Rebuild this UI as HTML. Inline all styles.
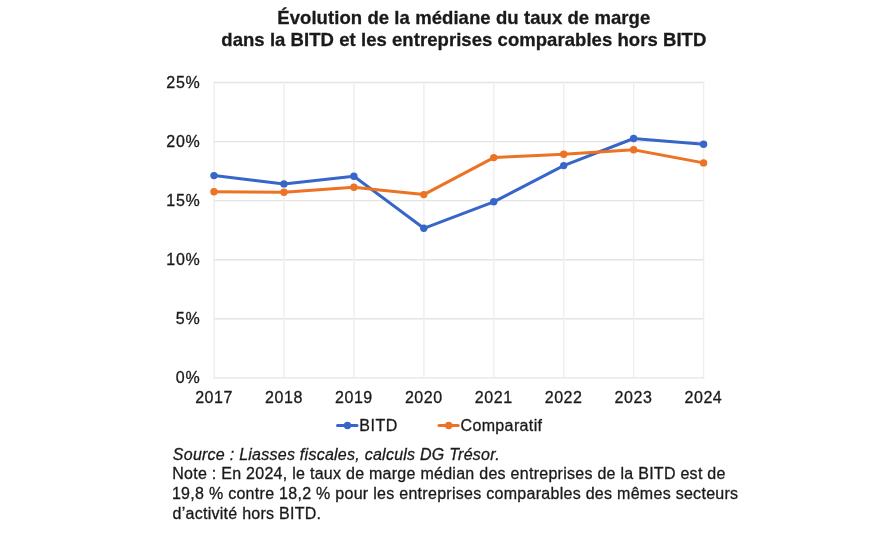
<!DOCTYPE html>
<html lang="fr"><head><meta charset="utf-8"><title>Évolution de la médiane du taux de marge</title>
<style>
html,body{margin:0;padding:0;background:#fff;}
body{width:880px;height:550px;position:relative;overflow:hidden;}
svg{position:absolute;left:0;top:0;will-change:transform;}
text{font-family:"Liberation Sans",Arial,sans-serif;fill:#1a1a1a;stroke:#1a1a1a;stroke-width:0.3px;}
.ax{font-size:16px;}
</style></head>
<body>
<svg width="880" height="550" viewBox="0 0 880 550">
<line x1="213.5" y1="377.85" x2="704.25" y2="377.85" stroke="#e4e4e4" stroke-width="1.4"/>
<line x1="213.5" y1="318.79" x2="704.25" y2="318.79" stroke="#e4e4e4" stroke-width="1.4"/>
<line x1="213.5" y1="259.73" x2="704.25" y2="259.73" stroke="#e4e4e4" stroke-width="1.4"/>
<line x1="213.5" y1="200.67" x2="704.25" y2="200.67" stroke="#e4e4e4" stroke-width="1.4"/>
<line x1="213.5" y1="141.61" x2="704.25" y2="141.61" stroke="#e4e4e4" stroke-width="1.4"/>
<line x1="213.5" y1="82.55" x2="704.25" y2="82.55" stroke="#e4e4e4" stroke-width="1.4"/>
<line x1="214.20" y1="81.85" x2="214.20" y2="378.55" stroke="#eeeeee" stroke-width="1.4"/>
<line x1="284.11" y1="81.85" x2="284.11" y2="378.55" stroke="#eeeeee" stroke-width="1.4"/>
<line x1="354.01" y1="81.85" x2="354.01" y2="378.55" stroke="#eeeeee" stroke-width="1.4"/>
<line x1="423.92" y1="81.85" x2="423.92" y2="378.55" stroke="#eeeeee" stroke-width="1.4"/>
<line x1="493.83" y1="81.85" x2="493.83" y2="378.55" stroke="#eeeeee" stroke-width="1.4"/>
<line x1="563.74" y1="81.85" x2="563.74" y2="378.55" stroke="#eeeeee" stroke-width="1.4"/>
<line x1="633.64" y1="81.85" x2="633.64" y2="378.55" stroke="#eeeeee" stroke-width="1.4"/>
<line x1="703.55" y1="81.85" x2="703.55" y2="378.55" stroke="#eeeeee" stroke-width="1.4"/>
<text x="199.8" y="383.35" text-anchor="end" textLength="24.0" lengthAdjust="spacing" class="ax">0%</text>
<text x="199.8" y="324.29" text-anchor="end" textLength="24.0" lengthAdjust="spacing" class="ax">5%</text>
<text x="199.8" y="265.23" text-anchor="end" textLength="33.5" lengthAdjust="spacing" class="ax">10%</text>
<text x="199.8" y="206.17" text-anchor="end" textLength="33.5" lengthAdjust="spacing" class="ax">15%</text>
<text x="199.8" y="147.11" text-anchor="end" textLength="33.5" lengthAdjust="spacing" class="ax">20%</text>
<text x="199.8" y="88.05" text-anchor="end" textLength="33.5" lengthAdjust="spacing" class="ax">25%</text>
<text x="213.80" y="402.7" text-anchor="middle" textLength="37.25" lengthAdjust="spacing" class="ax">2017</text>
<text x="283.71" y="402.7" text-anchor="middle" textLength="37.25" lengthAdjust="spacing" class="ax">2018</text>
<text x="353.61" y="402.7" text-anchor="middle" textLength="37.25" lengthAdjust="spacing" class="ax">2019</text>
<text x="423.52" y="402.7" text-anchor="middle" textLength="37.25" lengthAdjust="spacing" class="ax">2020</text>
<text x="493.43" y="402.7" text-anchor="middle" textLength="37.25" lengthAdjust="spacing" class="ax">2021</text>
<text x="563.34" y="402.7" text-anchor="middle" textLength="37.25" lengthAdjust="spacing" class="ax">2022</text>
<text x="633.24" y="402.7" text-anchor="middle" textLength="37.25" lengthAdjust="spacing" class="ax">2023</text>
<text x="703.15" y="402.7" text-anchor="middle" textLength="37.25" lengthAdjust="spacing" class="ax">2024</text>
<polyline points="214.00,175.60 283.94,183.90 353.88,176.20 423.82,228.30 493.76,201.80 563.70,165.60 633.64,138.50 703.58,144.20" fill="none" stroke="#3866C8" stroke-width="3" stroke-linejoin="round" stroke-linecap="round"/>
<polyline points="214.00,191.70 283.94,192.20 353.88,187.30 423.82,194.60 493.76,157.60 563.70,154.30 633.64,149.80 703.58,162.90" fill="none" stroke="#EC7224" stroke-width="3" stroke-linejoin="round" stroke-linecap="round"/>
<circle cx="214.00" cy="175.60" r="3.7" fill="#3866C8"/>
<circle cx="283.94" cy="183.90" r="3.7" fill="#3866C8"/>
<circle cx="353.88" cy="176.20" r="3.7" fill="#3866C8"/>
<circle cx="423.82" cy="228.30" r="3.7" fill="#3866C8"/>
<circle cx="493.76" cy="201.80" r="3.7" fill="#3866C8"/>
<circle cx="563.70" cy="165.60" r="3.7" fill="#3866C8"/>
<circle cx="633.64" cy="138.50" r="3.7" fill="#3866C8"/>
<circle cx="703.58" cy="144.20" r="3.7" fill="#3866C8"/>
<circle cx="214.00" cy="191.70" r="3.7" fill="#EC7224"/>
<circle cx="283.94" cy="192.20" r="3.7" fill="#EC7224"/>
<circle cx="353.88" cy="187.30" r="3.7" fill="#EC7224"/>
<circle cx="423.82" cy="194.60" r="3.7" fill="#EC7224"/>
<circle cx="493.76" cy="157.60" r="3.7" fill="#EC7224"/>
<circle cx="563.70" cy="154.30" r="3.7" fill="#EC7224"/>
<circle cx="633.64" cy="149.80" r="3.7" fill="#EC7224"/>
<circle cx="703.58" cy="162.90" r="3.7" fill="#EC7224"/>
<line x1="337.5" y1="425.45" x2="357.0" y2="425.45" stroke="#3866C8" stroke-width="3" stroke-linecap="round"/>
<circle cx="347.5" cy="425.45" r="3.7" fill="#3866C8"/>
<line x1="439.0" y1="425.45" x2="458.2" y2="425.45" stroke="#EC7224" stroke-width="3" stroke-linecap="round"/>
<circle cx="448.7" cy="425.45" r="3.7" fill="#EC7224"/>
<text x="463.75" y="23.60" font-size="18.5" font-weight="bold" text-anchor="middle" textLength="373.00" lengthAdjust="spacing" fill="#000">Évolution de la médiane du taux de marge</text>
<text x="463.80" y="45.50" font-size="18.5" font-weight="bold" text-anchor="middle" textLength="485.00" lengthAdjust="spacing" fill="#000">dans la BITD et les entreprises comparables hors BITD</text>
<text x="172.80" y="459.60" font-size="16" font-style="italic" textLength="326.90" lengthAdjust="spacing" fill="#000">Source : Liasses fiscales, calculs DG Trésor.</text>
<text x="172.20" y="479.30" font-size="16" textLength="553.20" lengthAdjust="spacing" fill="#000">Note : En 2024, le taux de marge médian des entreprises de la BITD est de</text>
<text x="171.90" y="498.60" font-size="16" textLength="566.20" lengthAdjust="spacing" fill="#000">19,8 % contre 18,2 % pour les entreprises comparables des mêmes secteurs</text>
<text x="172.60" y="519.00" font-size="16" textLength="148.40" lengthAdjust="spacing" fill="#000">d’activité hors BITD.</text>
<text x="359.30" y="430.60" font-size="16" textLength="38.00" lengthAdjust="spacing">BITD</text>
<text x="460.50" y="430.60" font-size="16" textLength="81.50" lengthAdjust="spacing">Comparatif</text>
</svg>
</body></html>
